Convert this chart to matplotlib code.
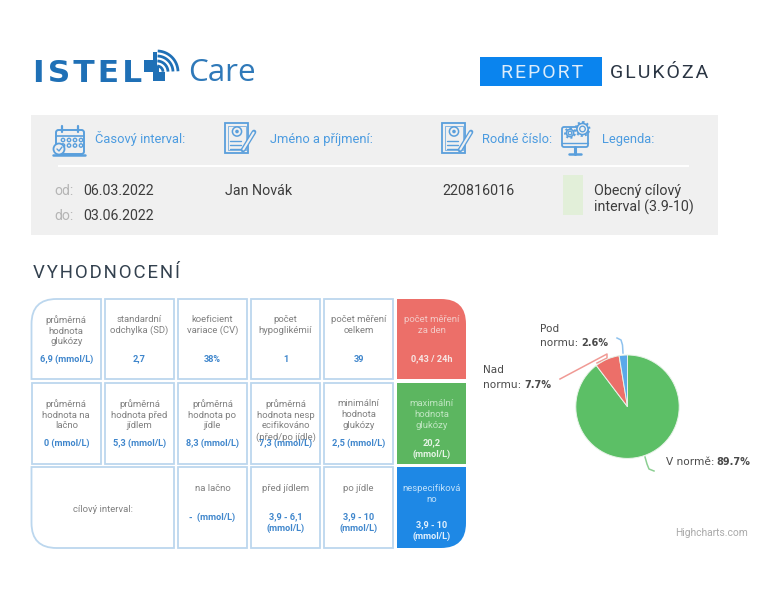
import matplotlib
matplotlib.use("Agg")
import matplotlib.pyplot as plt
import numpy as np
from matplotlib.patches import Rectangle, PathPatch, Circle, FancyBboxPatch
from matplotlib.path import Path

plt.rcParams['font.family'] = ['Roboto', 'DejaVu Sans']

W, H = 772, 598

# pie data
pie_names = ["V normě", "Nad normu", "Pod normu"]
pie_values = [89.7, 7.7, 2.6]
pie_colors = ["#5cbf66", "#ec6f69", "#5aa9e9"]

# table data
row1_labels = ["průměrná\nhodnota\nglukózy", "standardní\nodchylka (SD)", "koeficient\nvariace (CV)",
               "počet\nhypoglikémií", "počet měření\ncelkem", "počet měření\nza den"]
row1_values = ["6,9 (mmol/L)", "2,7", "38%", "1", "39", "0,43 / 24h"]
row2_labels = ["průměrná\nhodnota na\nlačno", "průměrná\nhodnota před\njídlem", "průměrná\nhodnota po\njídle",
               "průměrná\nhodnota nesp\necifikováno\n(před/po jídle)", "minimální\nhodnota\nglukózy", "maximální\nhodnota\nglukózy"]
row2_values = ["0 (mmol/L)", "5,3 (mmol/L)", "8,3 (mmol/L)", "7,3 (mmol/L)", "2,5 (mmol/L)", "20,2\n(mmol/L)"]
row3_labels = ["na lačno", "před jídlem", "po jídle", "nespecifiková\nno"]
row3_values = ["-  (mmol/L)", "3,9 - 6,1\n(mmol/L)", "3,9 - 10\n(mmol/L)", "3,9 - 10\n(mmol/L)"]

BLUE = "#4b9be0"
ICON = "#5a9fdc"
BORDER = "#bcd7ee"
GREY_TXT = "#808080"
VAL_TXT = "#3f86cc"
DARK = "#3d3d3d"
LOGO = "#1f70b6"
BAND = "#f0f0f0"
RED, GREEN, DBLUE = "#ec6f69", "#5cb660", "#1e88e5"

fig = plt.figure(figsize=(W / 100, H / 100), dpi=100)
ax = fig.add_axes([0, 0, 1, 1])
ax.set_xlim(0, W)
ax.set_ylim(H, 0)
ax.axis("off")


def box(x0, y0, x1, y1, fc="white", ec=BORDER, corner=None, r=25, lw=1.3):
    # rectangle with one rounded corner (tl, tr, bl, br)
    if corner is None:
        ax.add_patch(Rectangle((x0, y0), x1 - x0, y1 - y0, fc=fc, ec=ec, lw=lw))
        return
    L, C, M = Path.LINETO, Path.CURVE3, Path.MOVETO
    verts, codes = [], []
    pts = {"tl": (x0, y0), "tr": (x1, y0), "br": (x1, y1), "bl": (x0, y1)}
    dirs = {"tl": ((x0, y0 + r), (x0 + r, y0)), "tr": ((x1 - r, y0), (x1, y0 + r)),
            "br": ((x1, y1 - r), (x1 - r, y1)), "bl": ((x0 + r, y1), (x0, y1 - r))}
    for k in ["tl", "tr", "br", "bl"]:
        if k == corner:
            a, b = dirs[k]
            verts += [a, pts[k], b]
            codes += [L, C, C]
        else:
            verts.append(pts[k])
            codes.append(L)
    codes[0] = M
    verts.append(verts[0])
    codes.append(Path.CLOSEPOLY)
    ax.add_patch(PathPatch(Path(verts, codes), fc=fc, ec=ec, lw=lw))


def line(xs, ys, c=ICON, lw=1.2):
    ax.plot(xs, ys, color=c, lw=lw, solid_capstyle="round")


def arc(cx, cy, r, a0, a1, c=LOGO, lw=2.0):
    t = np.radians(np.linspace(a0, a1, 30))
    ax.plot(cx + r * np.cos(t), cy - r * np.sin(t), color=c, lw=lw, solid_capstyle="butt")


def gear(x, y, r, lw=1.2):
    ax.add_patch(Circle((x, y), r, fc=BAND, ec=ICON, lw=lw))
    ax.add_patch(Circle((x, y), r + 1.2, fc="none", ec=ICON, lw=1.6, ls=(0, (0.9, 1.0))))
    ax.add_patch(Circle((x, y), r * 0.5, fc="none", ec=ICON, lw=lw * 0.8))


# logo
ax.text(33, 81.5, "I\u200aS\u200aT\u200aE\u200aL", fontsize=22.5, fontweight="bold", color=LOGO, family="DejaVu Sans", va="baseline", ha="left")
ax.add_patch(Rectangle((153, 52), 12, 29, fc=LOGO, ec="none"))
ax.add_patch(Rectangle((144, 60), 32, 12, fc=LOGO, ec="none"))
ax.add_patch(Rectangle((157, 50), 24, 22, fc="white", ec="none"))
for rad in [6, 11, 16, 21]:
    arc(157, 72, rad, 2, 88, lw=2.0)
ax.add_patch(Rectangle((153, 66), 6, 6, fc=LOGO, ec="none"))
ax.text(188, 81, "Care", fontsize=22.6, color="#2f79b9", family="Open Sans", va="baseline", ha="left")

# report header
ax.add_patch(Rectangle((480, 57), 122, 29, fc="#0a84ee", ec="none"))
ax.text(542.5, 78, "R\u200aE\u200aP\u200aO\u200aR\u200aT", fontsize=14, color="#dcecfb", ha="center", va="baseline")
ax.text(659.5, 78, "G\u200aL\u200aU\u200aK\u200aÓ\u200aZ\u200aA", fontsize=14, color="#2b3644", ha="center", va="baseline")

# info band
ax.add_patch(Rectangle((31, 115), 687, 120, fc=BAND, ec="none"))
ax.plot([59, 688], [166, 166], color="white", lw=1.4)

for x, t in [(95, "Časový interval:"), (270, "Jméno a příjmení:"), (482, "Rodné číslo:"), (602, "Legenda:")]:
    ax.text(x, 143, t, fontsize=9.3, color=BLUE, va="baseline", ha="left")

ax.text(54, 195, "od:", fontsize=10.2, color="#b5b5b5")
ax.text(54, 219.5, "do:", fontsize=10.2, color="#b5b5b5")
ax.text(83, 195, "06.03.2022", fontsize=10.2, color=DARK)
ax.text(83, 219.5, "03.06.2022", fontsize=10.2, color=DARK)
ax.text(225, 195, "Jan Novák", fontsize=10.3, color=DARK)
ax.text(442, 195, "220816016", fontsize=10.3, color=DARK)
ax.add_patch(Rectangle((563, 175), 20, 40, fc="#e2efd9", ec="none"))
ax.text(594, 195, "Obecný cílový", fontsize=10.3, color=DARK)
ax.text(594, 212, "interval (3.9-10)", fontsize=10.3, color=DARK)

# calendar icon
ax.add_patch(FancyBboxPatch((56, 130), 28, 24, boxstyle="round,pad=0,rounding_size=2.5", fc="none", ec=ICON, lw=1.4))
line([56, 84], [135.5, 135.5], lw=1.2)
for x in [62, 78]:
    line([x, x], [126, 132], lw=1.6)
for yy in [140, 145.5]:
    for x in [63, 69, 75, 81]:
        ax.add_patch(Circle((x, yy), 1.7, fc="none", ec=ICON, lw=1.0))
line([53, 85], [155, 155], lw=1.8)
ax.add_patch(Circle((59, 149), 5.5, fc=BAND, ec=ICON, lw=1.3))
line([57, 59, 62], [149, 151, 147], lw=1.0)

# document icons
for x0 in [225, 442]:
    ax.add_patch(Rectangle((x0, 123), 23, 30, fc="none", ec=ICON, lw=1.3))
    ax.add_patch(Rectangle((x0 + 2.5, 126), 18, 24, fc="none", ec=ICON, lw=0.5))
    ax.add_patch(Circle((x0 + 12, 131.5), 4.6, fc="none", ec=ICON, lw=1.1))
    ax.add_patch(Circle((x0 + 12, 131.5), 1.8, fc=ICON, ec="none"))
    for yy in [141, 145, 149]:
        line([x0 + 5, x0 + 16], [yy, yy], lw=1.0)
    line([x0 + 18, x0 + 29], [150, 132], lw=3.4)
    line([x0 + 18.4, x0 + 28.6], [149.4, 132.6], c=BAND, lw=1.5)

# monitor + gears icon
ax.add_patch(FancyBboxPatch((562, 127), 26, 20, boxstyle="round,pad=0,rounding_size=2", fc="none", ec=ICON, lw=1.3))
line([562, 588], [143, 143], lw=1.0)
line([569, 581], [154, 154], lw=1.8)
line([575, 575], [147, 154], lw=2.2)
gear(570, 133, 3.6)
gear(582.5, 129, 5.6)

# section title
ax.text(33, 278, "V\u200aY\u200aH\u200aO\u200aD\u200aN\u200aO\u200aC\u200aE\u200aN\u200aÍ", fontsize=13.4, color="#33414f", va="baseline", ha="left")

# table
col_x = [(31.5, 101), (105, 174), (178, 247), (251, 320), (324, 393), (397, 466)]
row_y = [(299, 379), (383, 463.5), (467, 548)]
fills = [RED, GREEN, DBLUE]
fs = 6.8


def cell_text(x0, x1, y, txt, color, weight="normal"):
    ax.text((x0 + x1) / 2, y, txt, fontsize=fs if weight == "normal" else 6.6, color=color, fontweight=weight,
            ha="center", va="top", linespacing=1.25, multialignment="center")


for i, (labels, values) in enumerate([(row1_labels, row1_values), (row2_labels, row2_values)]):
    y0, y1 = row_y[i]
    for j, (lab, val) in enumerate(zip(labels, values)):
        x0, x1 = col_x[j]
        last = j == 5
        corner = "tl" if (i == 0 and j == 0) else ("tr" if (i == 0 and last) else None)
        box(x0, y0, x1, y1, fc=fills[i] if last else "white", ec="none" if last else BORDER, corner=corner)
        lab_c = "#f3c9c6" if (last and i == 0) else ("#bfe6c1" if last else GREY_TXT)
        cell_text(x0, x1, y0 + 16, lab, lab_c)
        cell_text(x0, x1, y0 + 55.5, val, "#f7e6e4" if (last and i == 0) else ("#e6f5e6" if last else VAL_TXT), "bold")

# third row: wide label cell then the target intervals
y0, y1 = row_y[2]
box(col_x[0][0], y0, col_x[1][1], y1, corner="bl")
ax.text((col_x[0][0] + col_x[1][1]) / 2, 509, "cílový interval:", fontsize=fs, color=GREY_TXT, ha="center", va="center")
for j, (lab, val) in enumerate(zip(row3_labels, row3_values)):
    x0, x1 = col_x[j + 2]
    last = j == 3
    box(x0, y0, x1, y1, fc=DBLUE if last else "white", ec="none" if last else BORDER, corner="br" if last else None)
    cell_text(x0, x1, y0 + 17, lab, "#bfe0fa" if last else GREY_TXT)
    cell_text(x0, x1, y0 + (53.5 if last else 45.5), val, "#e3f1fd" if last else VAL_TXT, "bold")

# pie
cx, cy, rad = 627.5, 406.7, 51.7
pax = fig.add_axes([(cx - rad) / W, 1 - (cy + rad) / H, 2 * rad / W, 2 * rad / H])
pax.pie(pie_values, colors=pie_colors, startangle=90, counterclock=False,
        wedgeprops={"edgecolor": "#e8f3e8", "linewidth": 0.7})
pax.set_xlim(-1, 1)
pax.set_ylim(-1, 1)

# leader lines
ax.plot([623, 622.5, 621, 617], [353, 345, 340, 338], color="#8fc2ee", lw=1.1)
ax.plot([560, 607, 607, 597], [379, 354, 358, 363], color="#f09a95", lw=1.1)
ax.plot([645, 647, 649, 654], [457, 464, 469, 471], color="#8ccf92", lw=1.1)

lab_fs = 7.6
bold_fs = 7.0
lab_c = "#4a4a4a"
ax.text(540, 329, "Pod", fontsize=lab_fs, family="DejaVu Sans", color=lab_c, va="center")
ax.text(540, 343.5, "normu:", fontsize=lab_fs, family="DejaVu Sans", color=lab_c, va="center")
ax.text(581, 343.5, "2.6%", fontsize=bold_fs, family="DejaVu Sans", fontweight="bold", color=lab_c, va="center")
ax.text(483, 370, "Nad", fontsize=lab_fs, family="DejaVu Sans", color=lab_c, va="center")
ax.text(483, 384.5, "normu:", fontsize=lab_fs, family="DejaVu Sans", color=lab_c, va="center")
ax.text(524, 384.5, "7.7%", fontsize=bold_fs, family="DejaVu Sans", fontweight="bold", color=lab_c, va="center")
ax.text(666, 462, "V normě:", fontsize=lab_fs, family="DejaVu Sans", color=lab_c, va="center")
ax.text(716, 462, "89.7%", fontsize=bold_fs, family="DejaVu Sans", fontweight="bold", color=lab_c, va="center")

ax.text(748, 533.5, "Highcharts.com", fontsize=7.4, color="#a9a9a9", ha="right", va="center")

fig.savefig("out.png", dpi=100)
